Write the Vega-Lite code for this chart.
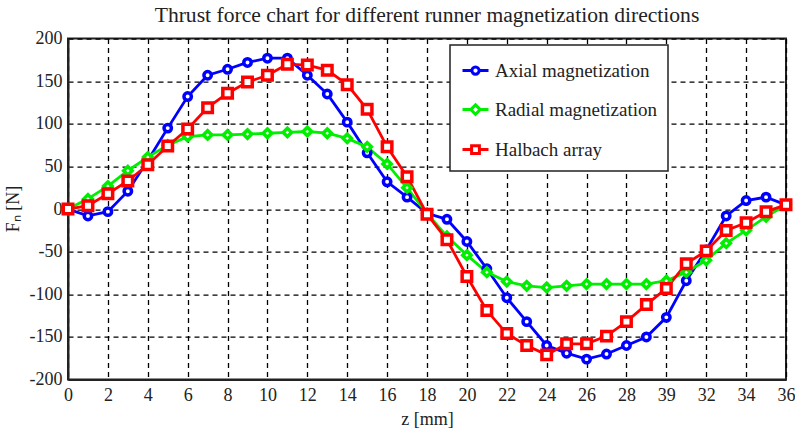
{
  "$schema": "https://vega.github.io/schema/vega-lite/v6.json",
  "autosize": "none",
  "width": 718,
  "height": 341,
  "padding": {"left": 68, "top": 38.6, "right": 9, "bottom": 54.4},
  "background": "white",
  "title": {
    "text": "Thrust force chart for different runner magnetization directions",
    "font": "Liberation Serif",
    "fontSize": 21.6,
    "fontWeight": "normal",
    "color": "#222222",
    "anchor": "middle",
    "baseline": "alphabetic",
    "offset": 4,
    "dy": 18
  },
  "config": {
    "font": "Liberation Serif",
    "view": {"stroke": "#222222", "strokeWidth": 2},
    "axis": {
      "labelFont": "Liberation Serif",
      "titleFont": "Liberation Serif",
      "labelFontSize": 18,
      "titleFontSize": 18,
      "labelColor": "#222222",
      "titleColor": "#222222",
      "titleFontWeight": "normal",
      "grid": true,
      "gridColor": "#000000",
      "gridDash": [5, 4],
      "gridWidth": 1.3,
      "gridOpacity": 1,
      "ticks": false,
      "domainColor": "#222222",
      "domainWidth": 2
    }
  },
  "data": {
    "values": [
      {"z": 0, "F": 0, "series": "Axial magnetization"},
      {"z": 1, "F": -8, "series": "Axial magnetization"},
      {"z": 2, "F": -3, "series": "Axial magnetization"},
      {"z": 3, "F": 21, "series": "Axial magnetization"},
      {"z": 4, "F": 57, "series": "Axial magnetization"},
      {"z": 5, "F": 95, "series": "Axial magnetization"},
      {"z": 6, "F": 132, "series": "Axial magnetization"},
      {"z": 7, "F": 157, "series": "Axial magnetization"},
      {"z": 8, "F": 164, "series": "Axial magnetization"},
      {"z": 9, "F": 172, "series": "Axial magnetization"},
      {"z": 10, "F": 177, "series": "Axial magnetization"},
      {"z": 11, "F": 177, "series": "Axial magnetization"},
      {"z": 12, "F": 157, "series": "Axial magnetization"},
      {"z": 13, "F": 135, "series": "Axial magnetization"},
      {"z": 14, "F": 102, "series": "Axial magnetization"},
      {"z": 15, "F": 66, "series": "Axial magnetization"},
      {"z": 16, "F": 32, "series": "Axial magnetization"},
      {"z": 17, "F": 14, "series": "Axial magnetization"},
      {"z": 18, "F": -5, "series": "Axial magnetization"},
      {"z": 19, "F": -12, "series": "Axial magnetization"},
      {"z": 20, "F": -38, "series": "Axial magnetization"},
      {"z": 21, "F": -70, "series": "Axial magnetization"},
      {"z": 22, "F": -104, "series": "Axial magnetization"},
      {"z": 23, "F": -132, "series": "Axial magnetization"},
      {"z": 24, "F": -160, "series": "Axial magnetization"},
      {"z": 25, "F": -169, "series": "Axial magnetization"},
      {"z": 26, "F": -176, "series": "Axial magnetization"},
      {"z": 27, "F": -170, "series": "Axial magnetization"},
      {"z": 28, "F": -160, "series": "Axial magnetization"},
      {"z": 29, "F": -150, "series": "Axial magnetization"},
      {"z": 30, "F": -127, "series": "Axial magnetization"},
      {"z": 31, "F": -84, "series": "Axial magnetization"},
      {"z": 32, "F": -48, "series": "Axial magnetization"},
      {"z": 33, "F": -8, "series": "Axial magnetization"},
      {"z": 34, "F": 10, "series": "Axial magnetization"},
      {"z": 35, "F": 14, "series": "Axial magnetization"},
      {"z": 36, "F": 5, "series": "Axial magnetization"},
      {"z": 0, "F": 0, "series": "Radial magnetization"},
      {"z": 1, "F": 12, "series": "Radial magnetization"},
      {"z": 2, "F": 27, "series": "Radial magnetization"},
      {"z": 3, "F": 45, "series": "Radial magnetization"},
      {"z": 4, "F": 61, "series": "Radial magnetization"},
      {"z": 5, "F": 75, "series": "Radial magnetization"},
      {"z": 6, "F": 85, "series": "Radial magnetization"},
      {"z": 7, "F": 87, "series": "Radial magnetization"},
      {"z": 8, "F": 87, "series": "Radial magnetization"},
      {"z": 9, "F": 88, "series": "Radial magnetization"},
      {"z": 10, "F": 89, "series": "Radial magnetization"},
      {"z": 11, "F": 90, "series": "Radial magnetization"},
      {"z": 12, "F": 91, "series": "Radial magnetization"},
      {"z": 13, "F": 89, "series": "Radial magnetization"},
      {"z": 14, "F": 83, "series": "Radial magnetization"},
      {"z": 15, "F": 73, "series": "Radial magnetization"},
      {"z": 16, "F": 53, "series": "Radial magnetization"},
      {"z": 17, "F": 25, "series": "Radial magnetization"},
      {"z": 18, "F": -5, "series": "Radial magnetization"},
      {"z": 19, "F": -32, "series": "Radial magnetization"},
      {"z": 20, "F": -54, "series": "Radial magnetization"},
      {"z": 21, "F": -74, "series": "Radial magnetization"},
      {"z": 22, "F": -85, "series": "Radial magnetization"},
      {"z": 23, "F": -90, "series": "Radial magnetization"},
      {"z": 24, "F": -92, "series": "Radial magnetization"},
      {"z": 25, "F": -90, "series": "Radial magnetization"},
      {"z": 26, "F": -88, "series": "Radial magnetization"},
      {"z": 27, "F": -88, "series": "Radial magnetization"},
      {"z": 28, "F": -88, "series": "Radial magnetization"},
      {"z": 29, "F": -88, "series": "Radial magnetization"},
      {"z": 30, "F": -84, "series": "Radial magnetization"},
      {"z": 31, "F": -74, "series": "Radial magnetization"},
      {"z": 32, "F": -60, "series": "Radial magnetization"},
      {"z": 33, "F": -40, "series": "Radial magnetization"},
      {"z": 34, "F": -25, "series": "Radial magnetization"},
      {"z": 35, "F": -9, "series": "Radial magnetization"},
      {"z": 36, "F": 5, "series": "Radial magnetization"},
      {"z": 0, "F": 0, "series": "Halbach array"},
      {"z": 1, "F": 4, "series": "Halbach array"},
      {"z": 2, "F": 18, "series": "Halbach array"},
      {"z": 3, "F": 33, "series": "Halbach array"},
      {"z": 4, "F": 52, "series": "Halbach array"},
      {"z": 5, "F": 74, "series": "Halbach array"},
      {"z": 6, "F": 94, "series": "Halbach array"},
      {"z": 7, "F": 119, "series": "Halbach array"},
      {"z": 8, "F": 136, "series": "Halbach array"},
      {"z": 9, "F": 149, "series": "Halbach array"},
      {"z": 10, "F": 157, "series": "Halbach array"},
      {"z": 11, "F": 170, "series": "Halbach array"},
      {"z": 12, "F": 169, "series": "Halbach array"},
      {"z": 13, "F": 163, "series": "Halbach array"},
      {"z": 14, "F": 146, "series": "Halbach array"},
      {"z": 15, "F": 117, "series": "Halbach array"},
      {"z": 16, "F": 73, "series": "Halbach array"},
      {"z": 17, "F": 38, "series": "Halbach array"},
      {"z": 18, "F": -6, "series": "Halbach array"},
      {"z": 19, "F": -36, "series": "Halbach array"},
      {"z": 20, "F": -79, "series": "Halbach array"},
      {"z": 21, "F": -119, "series": "Halbach array"},
      {"z": 22, "F": -146, "series": "Halbach array"},
      {"z": 23, "F": -160, "series": "Halbach array"},
      {"z": 24, "F": -171, "series": "Halbach array"},
      {"z": 25, "F": -158, "series": "Halbach array"},
      {"z": 26, "F": -158, "series": "Halbach array"},
      {"z": 27, "F": -149, "series": "Halbach array"},
      {"z": 28, "F": -132, "series": "Halbach array"},
      {"z": 29, "F": -112, "series": "Halbach array"},
      {"z": 30, "F": -93, "series": "Halbach array"},
      {"z": 31, "F": -64, "series": "Halbach array"},
      {"z": 32, "F": -49, "series": "Halbach array"},
      {"z": 33, "F": -25, "series": "Halbach array"},
      {"z": 34, "F": -16, "series": "Halbach array"},
      {"z": 35, "F": -3, "series": "Halbach array"},
      {"z": 36, "F": 5, "series": "Halbach array"}
    ]
  },
  "encoding": {
    "x": {
      "field": "z",
      "type": "quantitative",
      "scale": {"domain": [0, 36], "nice": false, "zero": false},
      "axis": {
        "title": "z [mm]",
        "values": [0, 2, 4, 6, 8, 10, 12, 14, 16, 18, 20, 22, 24, 26, 28, 30, 32, 34, 36],
        "labelExpr": "datum.value == 30 ? '39' : toString(datum.value)",
        "labelPadding": 7,
        "labelFlush": false,
        "titleBaseline": "alphabetic",
        "titleY": 45
      }
    },
    "y": {
      "field": "F",
      "type": "quantitative",
      "scale": {"domain": [-200, 200], "nice": false},
      "axis": {
        "title": "Fₙ [N]",
        "values": [-200, -150, -100, -50, 0, 50, 100, 150, 200],
        "labelExpr": "toString(datum.value)",
        "labelPadding": 6,
        "titleAngle": -90,
        "titleX": -50,
        "titleY": 170,
        "titleAlign": "center",
        "titleBaseline": "alphabetic"
      }
    },
    "color": {
      "field": "series",
      "type": "nominal",
      "sort": ["Axial magnetization", "Radial magnetization", "Halbach array"],
      "scale": {
        "domain": ["Axial magnetization", "Radial magnetization", "Halbach array"],
        "range": ["#0000ff", "#00ee00", "#ff0000"]
      },
      "legend": {
        "title": "\u00a0\u00a0\u00a0\u00a0\u00a0\u00a0\u00a0\u00a0\u00a0\u00a0\u00a0\u00a0\u00a0\u00a0\u00a0\u00a0\u00a0",
        "titleOrient": "right",
        "titleFont": "Liberation Serif",
        "titleFontSize": 19,
        "titlePadding": 0,
        "orient": "none",
        "legendX": 382,
        "legendY": 6.5,
        "fillColor": "white",
        "strokeColor": "#222222",
        "padding": 11,
        "rowPadding": 14,
        "symbolSize": 676,
        "symbolStrokeWidth": 3,
        "labelFont": "Liberation Serif",
        "labelFontSize": 19,
        "labelColor": "#222222",
        "labelOffset": 5,
        "labelLimit": 500,
        "encode": {
          "legend": {"update": {"strokeWidth": {"value": 1.5}}},
          "symbols": {
            "update": {
              "shape": {"signal": "datum.value == 'Axial magnetization' ? 'M-1,0H-0.28M0.28,0H1M0.28,0A0.28,0.28,0,1,1,-0.28,0A0.28,0.28,0,1,1,0.28,0Z' : datum.value == 'Radial magnetization' ? 'M-1,0H-0.36M0.36,0H1M0,-0.36L0.36,0L0,0.36L-0.36,0Z' : 'M-1,0H-0.3M0.3,0H1M-0.3,-0.3H0.3V0.3H-0.3Z'"},
              "size": {"value": 676},
              "fill": {"value": "white"},
              "strokeWidth": {"value": 3},
              "opacity": {"value": 1}
            }
          }
        }
      }
    }
  },
  "layer": [
    {
      "mark": {"type": "line", "strokeWidth": 2.8}
    },
    {
      "transform": [{"filter": "datum.series == 'Axial magnetization'"}],
      "mark": {"type": "point", "shape": "circle", "size": 55, "filled": false, "fill": "white", "strokeWidth": 3.5, "opacity": 1}
    },
    {
      "transform": [{"filter": "datum.series == 'Radial magnetization'"}],
      "mark": {"type": "point", "shape": "diamond", "size": 70, "filled": false, "fill": "white", "strokeWidth": 3.5, "opacity": 1}
    },
    {
      "transform": [{"filter": "datum.series == 'Halbach array'"}],
      "mark": {"type": "point", "shape": "square", "size": 90, "filled": false, "fill": "white", "strokeWidth": 3.5, "opacity": 1}
    }
  ]
}
